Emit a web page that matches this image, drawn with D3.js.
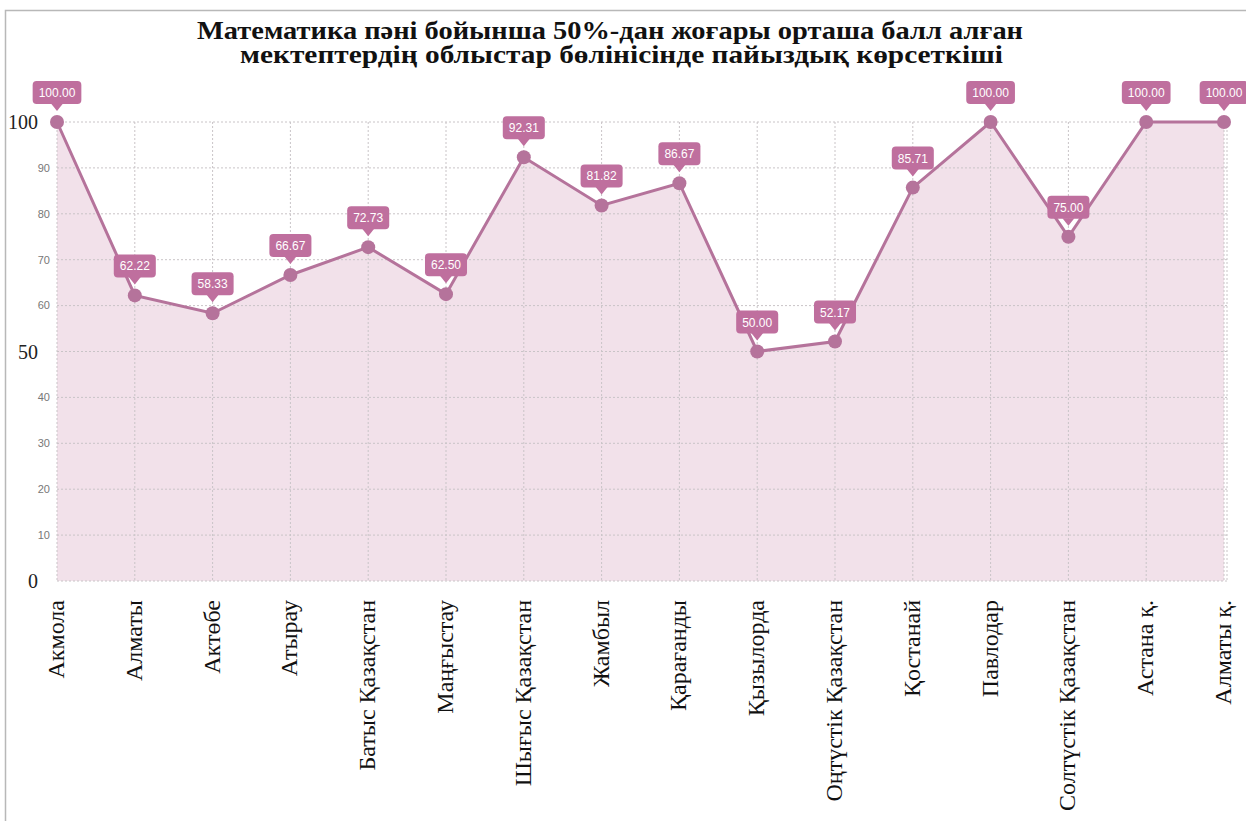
<!DOCTYPE html>
<html><head><meta charset="utf-8">
<script src="https://cdn.jsdelivr.net/npm/d3@7"></script>
<style>body{margin:0;background:#fff;}svg{display:block;}</style>
</head><body>
<svg id="chart" width="1246" height="821"></svg>
<script>
const titleLines = ["Математика пәні бойынша 50%-дан жоғары орташа балл алған", "мектептердің облыстар бөлінісінде пайыздық көрсеткіші"];
const categories = ["Акмола","Алматы","Актөбе","Атырау","Батыс Қазақстан","Маңғыстау","Шығыс Қазақстан","Жамбыл","Қарағанды","Қызылорда","Оңтүстік Қазақстан","Қостанай","Павлодар","Солтүстік Қазақстан","Астана қ.","Алматы қ."];
const values = [100.00, 62.22, 58.33, 66.67, 72.73, 62.50, 92.31, 81.82, 86.67, 50.00, 52.17, 85.71, 100.00, 75.00, 100.00, 100.00];
const yTicks = [0,10,20,30,40,50,60,70,80,90,100];
const bigTicks = [0,50,100];

(function(){
const svg = d3.select("#chart");
const pL = 57, pR = 1224, pT = 122, pB = 581;
const x = d3.scalePoint().domain(categories).range([pL, pR]).padding(0);
const y = d3.scaleLinear().domain([0,100]).range([pB, pT]);

// frame
svg.append("rect").attr("x",5.5).attr("y",10.5).attr("width",1300).attr("height",900)
  .attr("fill","none").attr("stroke","#b8b8b8").attr("stroke-width",1.5);

// title
const tFont = "Liberation Serif, Times New Roman, serif";
svg.append("text").attr("x",610).attr("y",39).attr("text-anchor","middle").attr("font-family",tFont)
  .attr("font-weight","bold").attr("font-size",25).attr("fill","#111")
  .attr("textLength",826).attr("lengthAdjust","spacingAndGlyphs").text(titleLines[0]);
svg.append("text").attr("x",621.5).attr("y",63).attr("text-anchor","middle").attr("font-family",tFont)
  .attr("font-weight","bold").attr("font-size",25).attr("fill","#111")
  .attr("textLength",763).attr("lengthAdjust","spacingAndGlyphs").text(titleLines[1]);

// area
const area = d3.area().x((d,i)=>x(categories[i])).y0(y(0)).y1(d=>y(d));
svg.append("path").datum(values).attr("d",area).attr("fill","#f2e1ea");

// grid
const gridCol = "#c9c4c7";
svg.append("g").selectAll("line").data(yTicks).join("line")
  .attr("x1",pL).attr("x2",1227).attr("y1",d=>y(d)).attr("y2",d=>y(d))
  .attr("stroke",gridCol).attr("stroke-width",1).attr("stroke-dasharray","2,2");
svg.append("g").selectAll("line").data(categories).join("line")
  .attr("x1",d=>x(d)).attr("x2",d=>x(d)).attr("y1",pT).attr("y2",pB)
  .attr("stroke",gridCol).attr("stroke-width",1).attr("stroke-dasharray","2,2");
svg.append("line").attr("x1",1227).attr("x2",1227).attr("y1",pT).attr("y2",pB)
  .attr("stroke",gridCol).attr("stroke-dasharray","2,2");

// y axis labels
svg.append("g").selectAll("text").data(yTicks).join("text")
  .attr("x",d=>bigTicks.includes(d)?38:50)
  .attr("y",d=>y(d))
  .attr("dy","0.35em")
  .attr("text-anchor","end")
  .attr("font-family",d=>bigTicks.includes(d)?"Liberation Serif, serif":"Liberation Sans, Arial, sans-serif")
  .attr("font-size",d=>bigTicks.includes(d)?20:11)
  .attr("fill",d=>bigTicks.includes(d)?"#222":"#777")
  .text(d=>d);

// x labels
svg.append("g").selectAll("text").data(categories).join("text")
  .attr("transform",d=>`translate(${x(d)+7},600) rotate(-90)`)
  .attr("text-anchor","end")
  .attr("font-family",tFont)
  .attr("font-size",24).attr("fill","#111")
  .text(d=>d);

// line
const lineCol = "#b5739b";
const line = d3.line().x((d,i)=>x(categories[i])).y(d=>y(d));
svg.append("path").datum(values).attr("d",line).attr("fill","none").attr("stroke",lineCol).attr("stroke-width",3);
svg.append("g").selectAll("circle").data(values).join("circle")
  .attr("cx",(d,i)=>x(categories[i])).attr("cy",d=>y(d)).attr("r",7).attr("fill",lineCol);

// data labels
const lab = svg.append("g").selectAll("g").data(values).join("g")
  .attr("transform",(d,i)=>`translate(${x(categories[i])},${y(d)})`);
lab.each(function(d){
  const g = d3.select(this);
  const txt = d.toFixed(2);
  const tmp = g.append("text").attr("font-family","Liberation Sans, Arial, sans-serif").attr("font-size",12).text(txt);
  const w = tmp.node().getComputedTextLength() + 12;
  tmp.remove();
  g.append("rect").attr("x",-w/2).attr("y",-41).attr("width",w).attr("height",23).attr("rx",4).attr("fill","#bf6f9e");
  g.append("path").attr("d","M-6,-18.5 L0,-11 L6,-18.5 Z").attr("fill","#bf6f9e");
  g.append("text").attr("x",0).attr("y",-25).attr("text-anchor","middle")
    .attr("font-family","Liberation Sans, Arial, sans-serif").attr("font-size",12).attr("fill","#fff").text(txt);
});
})();
</script>
</body></html>
